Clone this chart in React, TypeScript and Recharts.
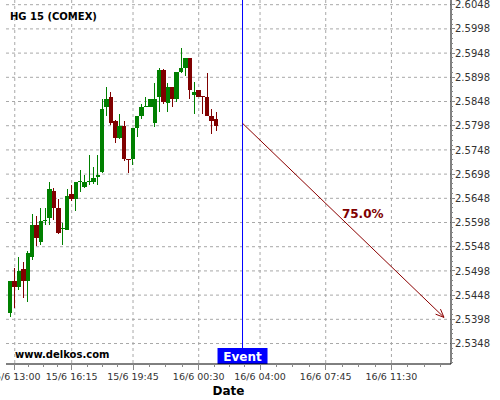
import React from "react";
import { ComposedChart, Bar, XAxis, YAxis, ReferenceLine, CartesianGrid } from "recharts";

const opens = [2.5412, 2.5477, 2.5464, 2.5502, 2.5477, 2.5527, 2.5593, 2.5558, 2.5602, 2.5608, 2.5663, 2.5628, 2.5584, 2.5583, 2.5657, 2.5647, 2.5683, 2.5672, 2.5684, 2.5682, 2.5693, 2.5702, 2.5837, 2.5857, 2.5808, 2.5773, 2.5797, 2.5730, 2.5729, 2.5793, 2.5818, 2.5837, 2.5837, 2.5803, 2.5858, 2.5913, 2.5844, 2.5877, 2.5853, 2.5908, 2.5917, 2.5938, 2.5862, 2.5872, 2.5859, 2.5857, 2.5818, 2.5812];
const highs = [2.5478, 2.5504, 2.5527, 2.5516, 2.5539, 2.5616, 2.5611, 2.5628, 2.5629, 2.5682, 2.5669, 2.5646, 2.5596, 2.5667, 2.5676, 2.5682, 2.5706, 2.5696, 2.5737, 2.5712, 2.5737, 2.5853, 2.5877, 2.5868, 2.5810, 2.5822, 2.5808, 2.5730, 2.5793, 2.5818, 2.5843, 2.5857, 2.5853, 2.5887, 2.5917, 2.5915, 2.5887, 2.5877, 2.5908, 2.5959, 2.5938, 2.5938, 2.5888, 2.5872, 2.5859, 2.5906, 2.5832, 2.5826];
const lows = [2.5402, 2.5421, 2.5459, 2.5442, 2.5434, 2.5521, 2.5550, 2.5552, 2.5593, 2.5593, 2.5604, 2.5574, 2.5551, 2.5583, 2.5642, 2.5621, 2.5662, 2.5669, 2.5676, 2.5678, 2.5676, 2.5700, 2.5818, 2.5800, 2.5762, 2.5771, 2.5726, 2.5701, 2.5716, 2.5775, 2.5812, 2.5837, 2.5836, 2.5796, 2.5826, 2.5843, 2.5826, 2.5837, 2.5847, 2.5907, 2.5901, 2.5853, 2.5822, 2.5858, 2.5822, 2.5818, 2.5781, 2.5788];
const closes = [2.5478, 2.5464, 2.5498, 2.5477, 2.5534, 2.5593, 2.5567, 2.5601, 2.5604, 2.5667, 2.5629, 2.5577, 2.5587, 2.5653, 2.5647, 2.5682, 2.5684, 2.5682, 2.5684, 2.5689, 2.5696, 2.5833, 2.5853, 2.5803, 2.5773, 2.5797, 2.5729, 2.5729, 2.5793, 2.5818, 2.5836, 2.5839, 2.5853, 2.5853, 2.5913, 2.5847, 2.5877, 2.5853, 2.5908, 2.5917, 2.5938, 2.5872, 2.5868, 2.5858, 2.5858, 2.5818, 2.5808, 2.5797];

// 15 minute slots, x axis
const xTickSlots = [1, 14, 28, 43, 57, 72, 87];
const xTickLabels = ["15/6 13:00", "15/6 16:15", "15/6 19:45", "16/6 00:30", "16/6 04:00", "16/6 07:45", "16/6 11:30"];
const yTicks = [2.5348, 2.5398, 2.5448, 2.5498, 2.5548, 2.5598, 2.5648, 2.5698, 2.5748, 2.5798, 2.5848, 2.5898, 2.5948, 2.5998, 2.6048];

const eventSlot = 53;
const forecastStart = { slot: 53, price: 2.5803 };
const forecastEnd = { slot: 99, price: 2.5402 };
const forecastLabel = "75.0%";

const GREEN = "#008000";
const RED = "#800000";
const GRID = "#a8a8a8";
const FONT = "DejaVu Sans";

const data = opens.map((o, i) => ({
  slot: i,
  open: o,
  high: highs[i],
  low: lows[i],
  close: closes[i],
  range: [lows[i], highs[i]],
}));

// minor x ticks: quarters between labelled ticks
const xMinor: number[] = [];
for (let i = 0; i < xTickSlots.length; i++) {
  const a = xTickSlots[i];
  const step = i < xTickSlots.length - 1 ? (xTickSlots[i + 1] - a) / 4 : (xTickSlots[i] - xTickSlots[i - 1]) / 4;
  for (let k = 0; k < 4; k++) xMinor.push(a + k * step);
}
const xAllTicks = xMinor.filter((v) => v <= 100.5);

const yMinor: number[] = [];
for (let k = 0; k <= 74; k++) yMinor.push(Math.round((2.5308 + k * 0.001) * 10000) / 10000);

const isYMajor = (v: number) => yTicks.some((t) => Math.abs(t - v) < 1e-6);

const Candle = (props: any) => {
  const { x, y, width, height, payload } = props;
  const { open, close, high, low } = payload;
  const top = Math.min(y, y + height);
  const h = Math.abs(height);
  const cx = x + width / 2;
  const k = high - low > 0 ? h / (high - low) : 0;
  const yO = top + (high - open) * k;
  const yC = top + (high - close) * k;
  const color = close >= open ? GREEN : RED;
  const l = Math.round(cx - 2.2);
  const r = Math.round(cx + 2.2);
  const bt = Math.round(Math.min(yO, yC));
  const bb = Math.max(bt + 1, Math.round(Math.max(yO, yC)));
  const wx = Math.floor(cx) + 0.5;
  return (
    <g shapeRendering="crispEdges">
      <line x1={wx} x2={wx} y1={top} y2={top + h} stroke={color} strokeWidth={1} />
      <rect x={l} y={bt} width={r - l} height={bb - bt} fill={color} />
    </g>
  );
};

const XTick = (props: any) => {
  const { x, y, payload } = props;
  const idx = xTickSlots.findIndex((s) => Math.abs(s - payload.value) < 1e-6);
  const major = idx >= 0;
  return (
    <g>
      <line x1={x} x2={x} y1={y} y2={y + (major ? 6 : 3)} stroke="#888" shapeRendering="crispEdges" />
      {major && (
        <text x={x} y={y + 15.5} textAnchor="middle" fontSize={9.5} fontFamily={FONT} fill="#333">
          {xTickLabels[idx]}
        </text>
      )}
    </g>
  );
};

const YTick = (props: any) => {
  const { x, y, payload } = props;
  const major = isYMajor(payload.value);
  return (
    <g>
      <line x1={x} x2={x + (major ? 4 : 2)} y1={y} y2={y} stroke="#888" shapeRendering="crispEdges" />
      {major && (
        <text x={x + 4} y={y + 3.6} textAnchor="start" fontSize={10} fontFamily={FONT} fill="#333">
          {payload.value.toFixed(4)}
        </text>
      )}
    </g>
  );
};

const ForecastArrow = (props: any) => {
  const { x1, y1, x2, y2 } = props;
  const ang = Math.atan2(y2 - y1, x2 - x1);
  const len = 9;
  const a1 = ang + Math.PI - 0.4;
  const a2 = ang + Math.PI + 0.4;
  const mx = (x1 + x2) / 2;
  const my = (y1 + y2) / 2;
  return (
    <g>
      <line x1={x1} y1={y1} x2={x2} y2={y2} stroke="#8b0000" strokeWidth={1} />
      <line x1={x2} y1={y2} x2={x2 + len * Math.cos(a1)} y2={y2 + len * Math.sin(a1)} stroke="#8b0000" strokeWidth={1} />
      <line x1={x2} y1={y2} x2={x2 + len * Math.cos(a2)} y2={y2 + len * Math.sin(a2)} stroke="#8b0000" strokeWidth={1} />
      <text x={mx + 19.5} y={my - 2} textAnchor="middle" fontSize={12} fontWeight="bold" fontFamily={FONT} fill="#800000">
        {forecastLabel}
      </text>
    </g>
  );
};

const EventLabel = (props: any) => {
  const { viewBox } = props;
  const cx = viewBox.x;
  const bottom = viewBox.y + viewBox.height;
  return (
    <g>
      <rect x={cx - 25} y={bottom - 16} width={50} height={16} fill="#0000ff" />
      <text x={cx} y={bottom - 3.5} textAnchor="middle" fontSize={12} fontWeight="bold" fontFamily={FONT} fill="#fff">
        Event
      </text>
    </g>
  );
};

export default function App() {
  return (
    <div style={{ position: "relative", width: 500, height: 400, background: "#fff" }}>
      <style>{`body{margin:0}`}</style>
      <ComposedChart width={500} height={400} data={data} margin={{ top: 0, right: 0, left: 6, bottom: 0 }}>
        <CartesianGrid
          stroke={GRID}
          strokeWidth={1}
          strokeDasharray="3 3"
          horizontalValues={yTicks}
          verticalValues={xTickSlots}
        />
        <XAxis
          dataKey="slot"
          type="number"
          domain={[-1, 100.6]}
          allowDataOverflow
          ticks={xAllTicks}
          interval={0}
          tickSize={0}
          tickMargin={0}
          tickLine={false}
          tick={<XTick />}
          height={36}
          axisLine={{ stroke: "#000" }}
          label={{ value: "Date", position: "insideBottom", offset: 5, fontSize: 12, fontWeight: "bold", fontFamily: FONT, fill: "#000" }}
        />
        <YAxis
          orientation="right"
          type="number"
          domain={[2.53057, 2.60577]}
          allowDataOverflow
          ticks={yMinor}
          interval={0}
          tickSize={0}
          tickMargin={0}
          tickLine={false}
          tick={<YTick />}
          width={49}
          axisLine={{ stroke: "#000" }}
        />
        <Bar dataKey="range" barSize={4} shape={<Candle />} isAnimationActive={false} />
        <ReferenceLine x={eventSlot} stroke="#0000ff" strokeWidth={1} label={<EventLabel />} />
        <ReferenceLine
          segment={[
            { x: forecastStart.slot, y: forecastStart.price },
            { x: forecastEnd.slot, y: forecastEnd.price },
          ]}
          shape={<ForecastArrow />}
        />
      </ComposedChart>
      <svg width={500} height={400} style={{ position: "absolute", left: 0, top: 0, pointerEvents: "none" }}>
        <text x={10} y={19.5} fontSize={10} fontWeight="bold" fontFamily={FONT} fill="#000">
          HG 15 (COMEX)
        </text>
        <text x={15} y={358} fontSize={10} fontWeight="bold" fontFamily={FONT} fill="#000">
          www.delkos.com
        </text>
      </svg>
    </div>
  );
}
